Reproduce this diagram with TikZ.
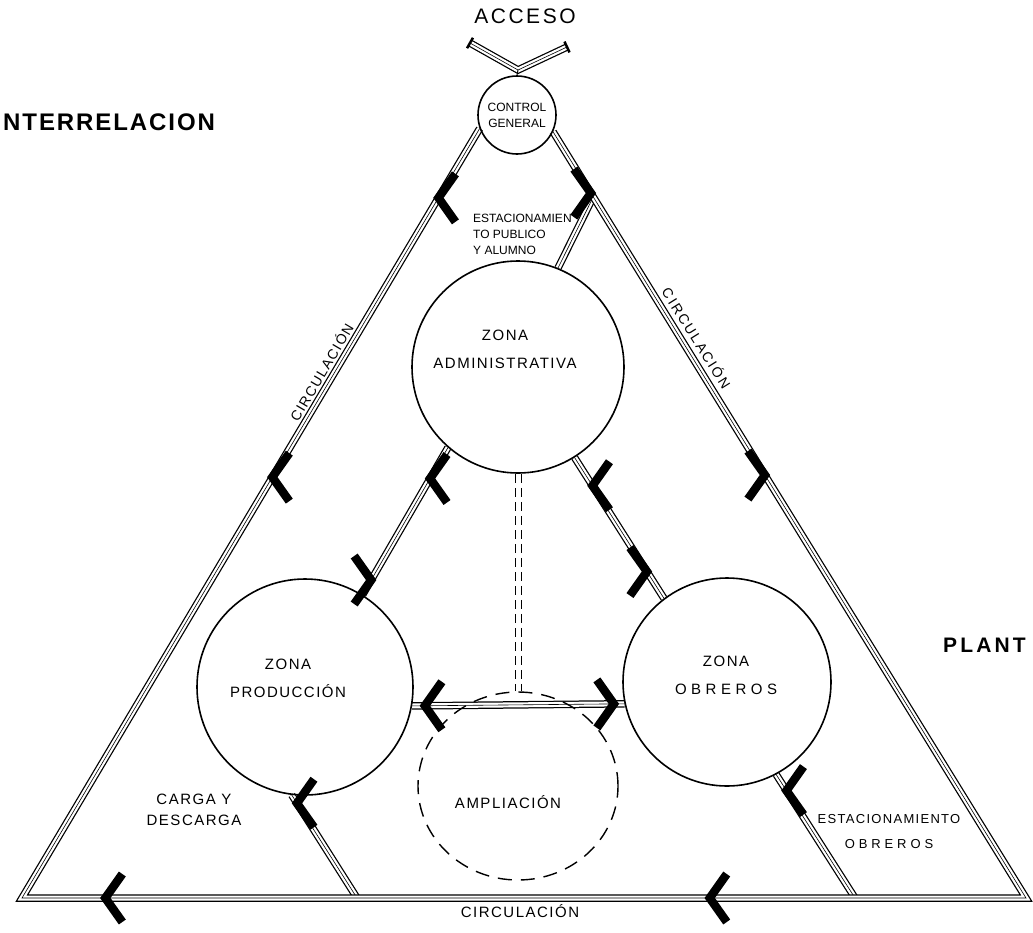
\documentclass[tikz,border=0pt]{standalone}
\usepackage{fontspec}
\setmainfont{Liberation Sans}
\newfontfamily\letra[LetterSpace=10]{Liberation Sans}
\newfontfamily\letrac{Liberation Sans}
\newfontfamily\rotulo[LetterSpace=8]{Liberation Sans}
\usetikzlibrary{shapes.geometric, calc, backgrounds}

\begin{document}
\begin{tikzpicture}[
    x=1pt, y=-1pt,
    zona/.style={circle, draw=black, line width=1.6pt, inner sep=0pt},
    camino/.style={draw=white, line width=5pt, line join=miter,
        preaction={draw=black, line width=7.5pt, line join=miter},
        postaction={draw=black, line width=0.6pt, line join=miter}},
    ampliar/.style={draw=black, dash pattern=on 9pt off 5pt, line width=1pt, double=white, double distance=5pt},
    letra/.style={font=\letra\fontsize{15}{28}\selectfont, align=center, inner sep=0pt},
    chica/.style={font=\letrac\fontsize{12}{16}\selectfont, inner sep=0pt},
    rotulo/.style={font=\rotulo\bfseries\fontsize{24}{28}\selectfont, inner sep=0pt},
    barra/.style={line width=2.5pt},
    every pic/.style={sloped, allow upside down},
    flecha/.pic={\draw[line width=8.5pt, line join=miter] (-17,-24) -- (0,0) -- (-17,24);},
    contra/.pic={\draw[line width=8.5pt, line join=miter] (17,-24) -- (0,0) -- (17,24);}
]
\useasboundingbox (0,0) rectangle (1033,932);

    % Zonas
    \node[zona, minimum size=78pt] (control) at (517,115) {};
    \node[zona, minimum size=212pt] (admin) at (518,367) {};
    \node[zona, minimum size=216pt] (prod) at (305,687) {};
    \node[zona, minimum size=208pt] (obreros) at (727,682) {};
    \node[ellipse, draw=black, dash pattern=on 14pt off 9pt, line width=1.4pt, minimum width=200pt, minimum height=188pt, inner sep=0pt] (amplia) at (518,786) {};

    % Puntos de la circulacion
    \coordinate (esqizq) at (22,898);
    \coordinate (esqder) at (1026,898);
    \coordinate (carga) at (357,898);
    \coordinate (estobr) at (855,898);
    \coordinate (acci) at (470,43);
    \coordinate (accd) at (567,47);
    \coordinate (accv) at (518,70);
    \path (control.-25) -- (esqder) coordinate[pos=0.085] (bifurca);

    % Caminos
    \begin{scope}[on background layer]
        \draw[camino] (bifurca) -- (admin.68);
        \draw[camino] (prod.-97) -- (carga);
        \draw[camino] (obreros.-62) -- (estobr);
        \draw[camino] (admin.-131) -- (prod.58);
        \draw[camino] (admin.-58) -- (obreros.127);
        \draw[camino] (prod.-10) -- (obreros.-168);
        \draw[ampliar] (admin.south) -- (amplia.north);
        \draw[camino] (control.-160) -- (esqizq) -- (esqder) -- (control.-25);
        \draw[camino] (acci) -- (accv) -- (accd);
    \end{scope}
    \draw[line width=1pt] (accv) -- (control.north);
    \draw[barra] ($(acci)!6pt!90:(accv)$) -- ($(acci)!6pt!-90:(accv)$);
    \draw[barra] ($(accd)!6pt!90:(accv)$) -- ($(accd)!6pt!-90:(accv)$);

    % Flechas
    \path (control.-160) -- (esqizq) pic[pos=0.09]{contra} pic[pos=0.453]{contra};
    \path (control.-25) -- (esqder) pic[pos=0.08]{flecha} pic[pos=0.448]{flecha};
    \path (esqizq) -- (esqder) pic[pos=0.083]{contra} pic[pos=0.685]{contra};
    \path (admin.-131) -- (prod.58) pic[pos=0.21]{contra} pic[pos=0.9]{flecha};
    \path (admin.-58) -- (obreros.127) pic[pos=0.2]{contra} pic[pos=0.81]{flecha};
    \path (prod.-10) -- (obreros.-168) pic[pos=0.06]{contra} pic[pos=0.95]{flecha};
    \path (prod.-97) -- (carga) pic[pos=0.08]{contra};
    \path (obreros.-62) -- (estobr) pic[pos=0.13]{contra};

    % Textos
    \node[rotulo, anchor=west] (interrel) at (3,122) {NTERRELACION};
    \node[rotulo, font=\rotulo\bfseries\fontsize{21}{24}\selectfont\addfontfeature{LetterSpace=15}, anchor=west] (planta) at (943,645) {PLANT};
    \node[letra, font=\letra\fontsize{21}{24}\selectfont\addfontfeature{LetterSpace=12}] (acceso) at (525,16) {ACCESO};
    \node[chica, align=center] (ctrltxt) at (517,115) {CONTROL\\GENERAL};
    \node[chica, align=left, anchor=west] (estpub) at (473,234) {ESTACIONAMIEN\\TO PUBLICO\\Y ALUMNO};
    \node[letra] (admintxt) at (505,349) {ZONA\\ADMINISTRATIVA};
    \node[letra] (prodtxt) at (288,678) {ZONA\\PRODUCCIÓN};
    \node[letra] (obrtxt) at (726,675) {ZONA\\{\addfontfeature{LetterSpace=30}OBREROS}};
    \node[letra] (ampliatxt) at (508,802) {AMPLIACIÓN};
    \node[letra, font=\letra\fontsize{15}{21}\selectfont] (cargatxt) at (194,810) {CARGA Y\\DESCARGA};
    \node[letra, font=\letra\fontsize{13}{25}\selectfont] (estobrtxt) at (889,832) {ESTACIONAMIENTO\\{\addfontfeature{LetterSpace=30}OBREROS}};
    \node[letra, font=\letra\fontsize{14}{16}\selectfont, rotate=59.5] (circizq) at (321,372) {CIRCULACIÓN};
    \node[letra, font=\letra\fontsize{14}{16}\selectfont\addfontfeature{LetterSpace=14}, rotate=-58] (circder) at (697,338) {CIRCULACIÓN};
    \node[letra] (circbaja) at (520,911) {CIRCULACIÓN};

\end{tikzpicture}
\end{document}
